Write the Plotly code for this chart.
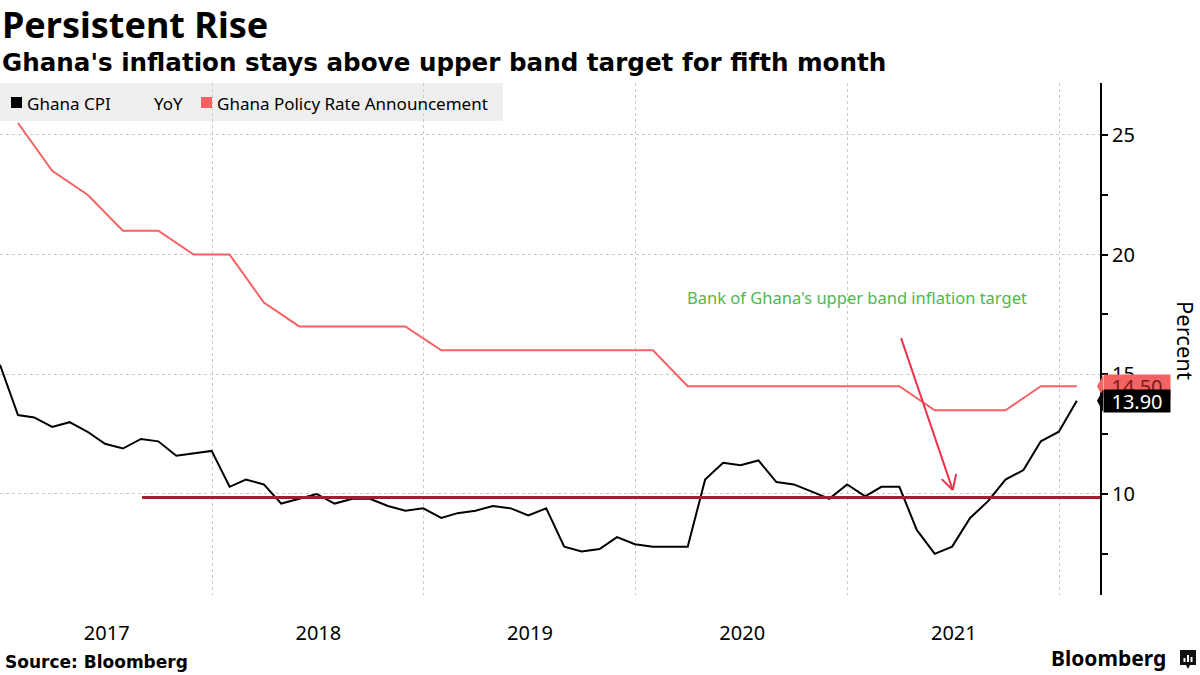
import plotly.graph_objects as go
import pandas as pd

# ---------------- data ----------------
cpi_start, cpi_end = "2016-12-31", "2022-01-31"
cpi_values = [15.4,
              13.3, 13.2, 12.8, 13.0, 12.6, 12.1, 11.9, 12.3, 12.2, 11.6, 11.7, 11.8,
              10.3, 10.6, 10.4, 9.6, 9.8, 10.0, 9.6, 9.8, 9.8, 9.5, 9.3, 9.4,
              9.0, 9.2, 9.3, 9.5, 9.4, 9.1, 9.4, 7.8, 7.6, 7.7, 8.2, 7.9,
              7.8, 7.8, 7.8, 10.6, 11.3, 11.2, 11.4, 10.5, 10.4, 10.1, 9.8, 10.4,
              9.9, 10.3, 10.3, 8.5, 7.5, 7.8, 9.0, 9.7, 10.6, 11.0, 12.2, 12.6,
              13.9]
policy_start, policy_end = "2017-01-31", "2022-01-31"
policy_values = [25.5, 23.5, 22.5, 21.0, 21.0, 20.0,
                 20.0, 18.0, 17.0, 17.0, 17.0, 17.0,
                 16.0, 16.0, 16.0, 16.0, 16.0, 16.0,
                 16.0, 14.5, 14.5, 14.5, 14.5, 14.5,
                 14.5, 14.5, 13.5, 13.5, 13.5, 14.5,
                 14.5]
target_rate = 9.85
year_labels = ["2017", "2018", "2019", "2020", "2021"]
year_label_dates = ["2017-07-03", "2018-07-03", "2019-07-03", "2020-07-03", "2021-07-03"]
year_bounds = ["2017-01-01", "2018-01-01", "2019-01-01", "2020-01-01", "2021-01-01", "2022-01-01"]
y_ticks = [10, 15, 20, 25]
y_minor = [7.5, 12.5, 17.5, 22.5]


def month_ends(a, b, step=1):
    try:
        return pd.date_range(a, b, freq=f"{step}ME")
    except Exception:
        return pd.date_range(a, b, freq=f"{step}M")


cpi_dates = month_ends(cpi_start, cpi_end)
policy_dates = month_ends(policy_start, policy_end, 2)

# ---------------- styling ----------------
FONT = "Noto Sans"
BOLD_FONT = "DejaVu Sans"
CPI_COLOR = "#000000"
POLICY_COLOR = "#f46363"
TARGET_COLOR = "#a51b30"
GRID = "#c9c9c9"

L, R, T, B = 0, 1100, 83, 595


def px(x):
    return (x - L) / (R - L)


def py(y):
    return (B - y) / (B - T)


fig = go.Figure()
fig.add_trace(go.Scatter(x=policy_dates, y=policy_values, mode="lines",
                         line=dict(color=POLICY_COLOR, width=2), name="Ghana Policy Rate Announcement"))
fig.add_trace(go.Scatter(x=cpi_dates, y=cpi_values, mode="lines",
                         line=dict(color=CPI_COLOR, width=2), name="Ghana CPI YoY"))

shapes = []
# legend background
shapes.append(dict(type="rect", xref="paper", yref="paper", x0=px(0), x1=px(503), y0=py(121), y1=py(83),
                   fillcolor="#efefef", line=dict(width=0), layer="below"))
shapes.append(dict(type="rect", xref="paper", yref="paper", x0=px(11), x1=px(22), y0=py(108), y1=py(97),
                   fillcolor=CPI_COLOR, line=dict(width=0)))
shapes.append(dict(type="rect", xref="paper", yref="paper", x0=px(201), x1=px(212), y0=py(108), y1=py(97),
                   fillcolor=POLICY_COLOR, line=dict(width=0)))
# upper band target line
shapes.append(dict(type="line", xref="x", yref="y", x0="2017-09-02", x1="2022-03-12",
                   y0=target_rate, y1=target_rate, line=dict(color=TARGET_COLOR, width=3)))
# arrow
ARROW = "#e8344c"
shapes.append(dict(type="line", xref="x", yref="y", x0="2021-04-03", y0=16.51, x1="2021-07-01", y1=10.17,
                   line=dict(color=ARROW, width=2)))
shapes.append(dict(type="line", xref="x", yref="y", x0="2021-06-12", y0=10.62, x1="2021-07-01", y1=10.17,
                   line=dict(color=ARROW, width=2)))
shapes.append(dict(type="line", xref="x", yref="y", x0="2021-07-07", y0=10.84, x1="2021-07-01", y1=10.17,
                   line=dict(color=ARROW, width=2)))
# last value notches
for val, col in ((policy_values[-1], POLICY_COLOR), (cpi_values[-1], "#000000")):
    shapes.append(dict(type="path", xref="paper", yref="y", xsizemode="pixel", ysizemode="pixel",
                       xanchor=px(1103), yanchor=val, path="M 0,11 L -6,0 L 0,-11 Z",
                       fillcolor=col, line=dict(width=0)))
# Bloomberg icon
shapes.append(dict(type="path", xref="paper", yref="paper",
                   path=(f"M {px(1180)},{py(650)} L {px(1196)},{py(650)} L {px(1196)},{py(665)} "
                         f"L {px(1190)},{py(665)} L {px(1188)},{py(669)} L {px(1186)},{py(665)} "
                         f"L {px(1180)},{py(665)} Z"),
                   fillcolor="#111111", line=dict(width=0)))
for bx, top in ((1184.5, 658), (1188, 655), (1191.5, 657)):
    shapes.append(dict(type="line", xref="paper", yref="paper", x0=px(bx), x1=px(bx), y0=py(662), y1=py(top),
                       line=dict(color="white", width=2)))

annotations = []


def text(x, y, s, size, color="#000000", bold=False, xanchor="left", yanchor="middle", family=FONT, **kw):
    annotations.append(dict(xref="paper", yref="paper", x=px(x), y=py(y), text=f"<b>{s}</b>" if bold else s,
                            showarrow=False, xanchor=xanchor, yanchor=yanchor,
                            font=dict(family=family, size=size, color=color), **kw))


text(0, 24, "Persistent Rise", 36, bold=True)
text(0, 62.5, "Ghana's inflation stays above upper band target for fifth month", 24.6, bold=True, family=BOLD_FONT)
text(25, 103, "Ghana CPI", 17)
text(152, 103, "YoY", 17)
text(215, 103, "Ghana Policy Rate Announcement", 17)
text(857, 297, "Bank of Ghana's upper band inflation target", 16.5, color="#4db84d", xanchor="center")
text(1186, 340, "Percent", 22, xanchor="center", textangle=90)
text(3, 662, "Source: Bloomberg", 17, bold=True, family=BOLD_FONT)
text(1168, 658, "Bloomberg", 21, bold=True, xanchor="right")

# last value labels
annotations.append(dict(xref="paper", yref="y", x=px(1103), y=policy_values[-1], xanchor="left", yanchor="middle",
                        text=f"{policy_values[-1]:.2f}", showarrow=False, bgcolor=POLICY_COLOR, width=66, height=22,
                        borderpad=0, font=dict(family=FONT, size=20, color="#7a1a1a")))
annotations.append(dict(xref="paper", yref="y", x=px(1103), y=cpi_values[-1], xanchor="left", yanchor="middle",
                        text=f"{cpi_values[-1]:.2f}", showarrow=False, bgcolor="#000000", width=66, height=22,
                        borderpad=0, font=dict(family=FONT, size=20, color="#ffffff")))

fig.update_layout(
    width=1200, height=675,
    margin=dict(l=L, r=1200 - R, t=T, b=675 - B),
    paper_bgcolor="white", plot_bgcolor="white",
    showlegend=False,
    font=dict(family=FONT, size=20, color="#000000"),
    shapes=shapes, annotations=annotations,
    xaxis=dict(type="date", range=["2016-12-31", "2022-03-12"],
               tickmode="array", tickvals=year_label_dates, ticktext=year_labels,
               showgrid=False, ticks="", showline=False, zeroline=False,
               tickfont=dict(family=FONT, size=20), ticklabelstandoff=24,
               minor=dict(tickmode="array", tickvals=year_bounds, showgrid=True, gridcolor=GRID,
                          griddash="dot", gridwidth=1, ticks="")),
    yaxis=dict(side="right", range=[5.78, 27.17], tickmode="array", tickvals=y_ticks,
               showgrid=True, gridcolor=GRID, griddash="dot", gridwidth=1, zeroline=False,
               showline=True, linecolor="#000000", linewidth=2,
               ticks="outside", ticklen=6, tickwidth=1.5, tickcolor="#000000",
               tickfont=dict(family=FONT, size=20),
               minor=dict(tickmode="array", tickvals=y_minor, ticks="outside", ticklen=6,
                          tickwidth=1.5, tickcolor="#000000", showgrid=False)),
)

fig.write_html("out.html")
